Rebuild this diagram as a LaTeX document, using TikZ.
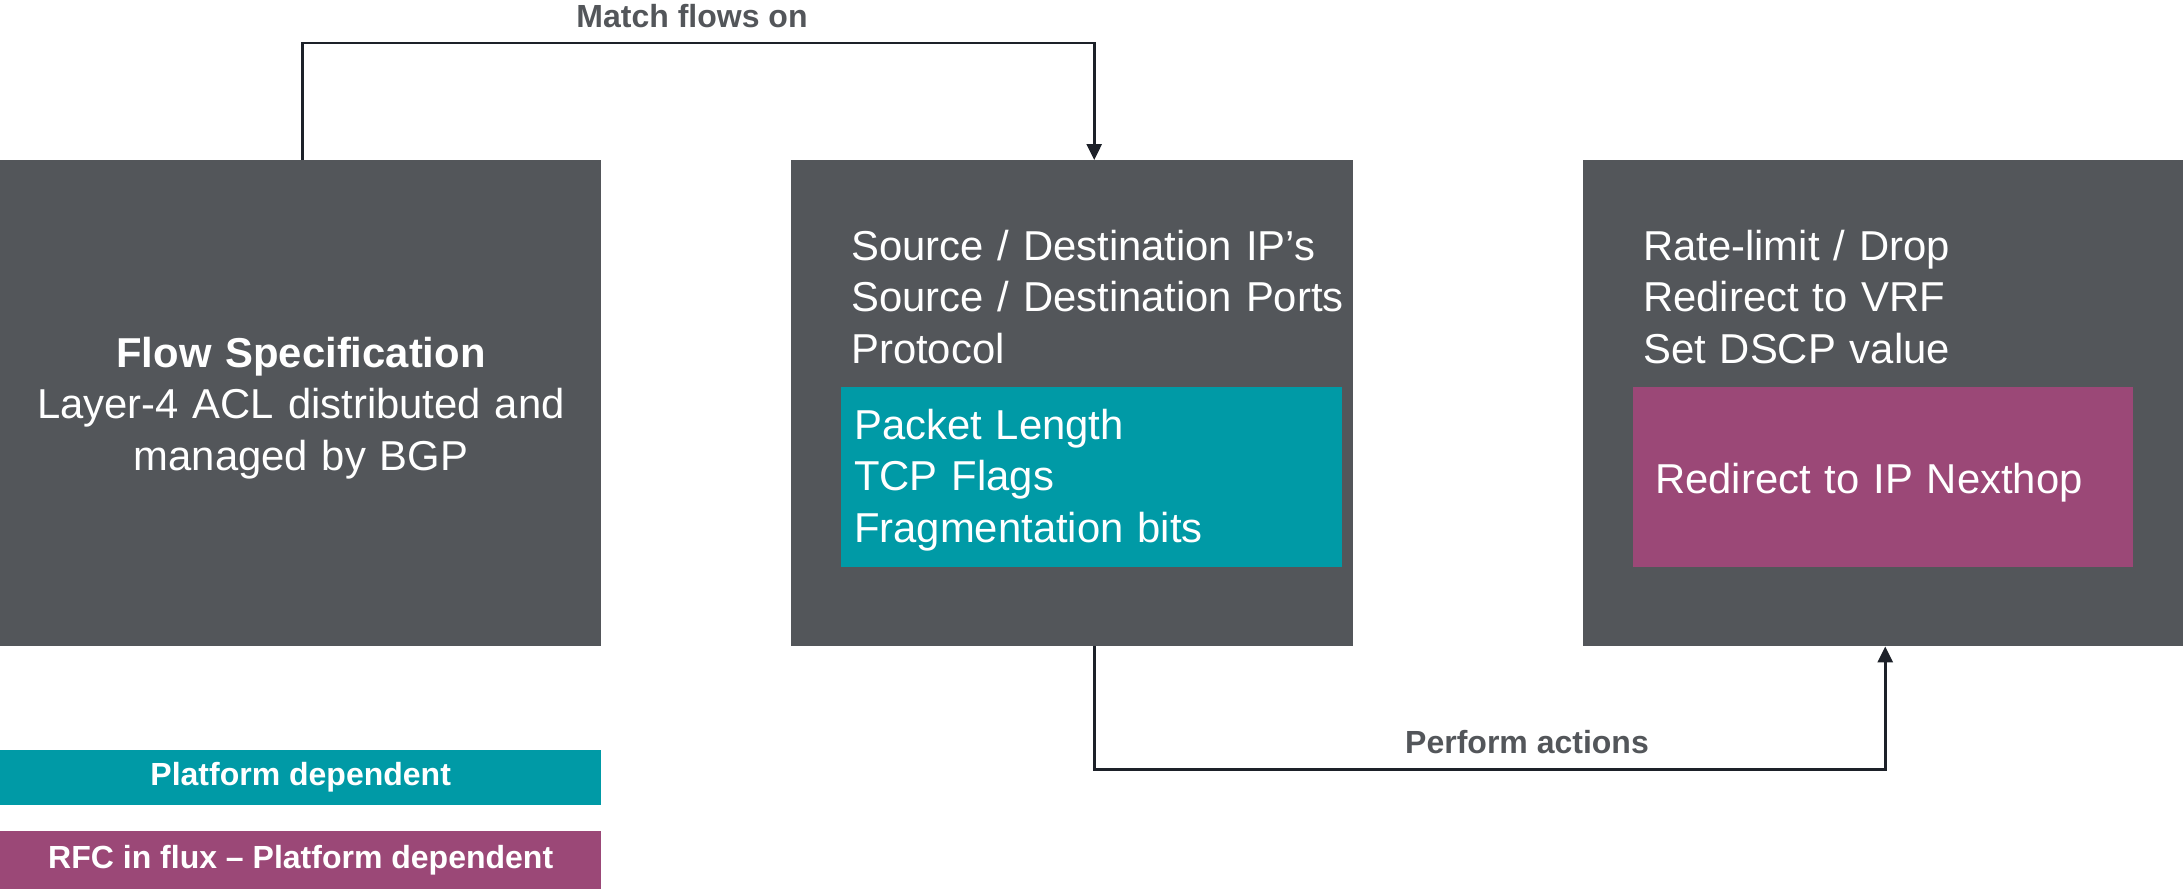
\documentclass[tikz,border=0pt]{standalone}
\usepackage{fontspec}
\setmainfont{Liberation Sans}
\usetikzlibrary{arrows.meta}

\definecolor{boxgrey}{HTML}{53565A}
\definecolor{cteal}{HTML}{009AA6}
\definecolor{cplum}{HTML}{9B4877}
\definecolor{linedark}{HTML}{1D2129}
\definecolor{labelgrey}{HTML}{53565A}

\tikzset{
  panel/.style={fill=#1, draw=none, inner sep=0pt, anchor=north west},
  bodytext/.style={text=white, inner sep=0pt, font=\fontsize{41.8}{51.5}\selectfont},
  lefttext/.style={bodytext, anchor=base west, align=left, text width=560pt},
  legendtext/.style={text=white, inner sep=0pt, font=\fontsize{32}{38}\selectfont\bfseries},
  flowlabel/.style={text=labelgrey, inner sep=0pt, font=\fontsize{32}{38}\selectfont\bfseries},
  arr/.style={draw=linedark, line width=2.8pt,
    -{Triangle[length=16pt,width=15pt]}},
}

\begin{document}
\begin{tikzpicture}[x=1pt,y=-1pt]
\useasboundingbox (0,0) rectangle (2183,891);

% main panels
\node[panel=boxgrey, minimum width=601pt, minimum height=486pt] (spec) at (0,160) {};
\node[panel=boxgrey, minimum width=562pt, minimum height=486pt] (match) at (791,160) {};
\node[panel=boxgrey, minimum width=600pt, minimum height=486pt] (act) at (1583,160) {};

% platform dependent sub-panels
\node[panel=cteal, minimum width=501pt, minimum height=180pt] (plat) at (841,387) {};
\node[panel=cplum, minimum width=500pt, minimum height=180pt] (rfc) at (1633,387) {};

% legend
\node[panel=cteal, minimum width=601pt, minimum height=55pt] (legplat) at (0,750) {};
\node[panel=cplum, minimum width=601pt, minimum height=58pt] (legrfc) at (0,831) {};
\node[legendtext] (legplattxt) at (legplat.center) {Platform dependent};
\node[legendtext] (legrfctxt) at (legrfc.center) {RFC in flux – Platform dependent};

% panel texts
\node[bodytext, anchor=base, align=center, text width=580pt] (spectxt) at (301,367)
  {{\bfseries Flow Specification}\\Layer-4 ACL distributed and\\managed by BGP};
\node[lefttext] (matchtxt) at (851,260)
  {Source / Destination IP’s\\Source / Destination Ports\\Protocol};
\node[lefttext] (plattxt) at (854,439)
  {Packet Length\\TCP Flags\\Fragmentation bits};
\node[lefttext] (acttxt) at (1643,260)
  {Rate-limit / Drop\\Redirect to VRF\\Set DSCP value};
\node[lefttext] (rfctxt) at (1655,493) {Redirect to IP Nexthop};

% connectors
\draw[arr] ([xshift=2pt]spec.north) -- ++(0,-117) -| ([xshift=22pt]match.north);
\draw[arr] ([xshift=22pt]match.south) -- ++(0,123) -| ([xshift=2pt]act.south);

\node[flowlabel] (matchlbl) at (692,16) {Match flows on};
\node[flowlabel] (actlbl) at (1527,742) {Perform actions};
\end{tikzpicture}
\end{document}
